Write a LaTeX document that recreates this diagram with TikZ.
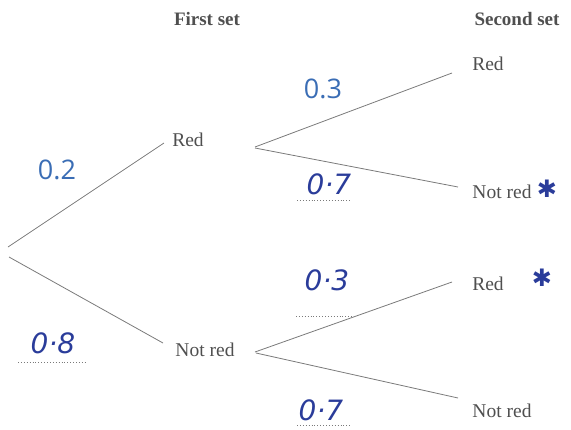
\documentclass[tikz,border=0pt]{standalone}
\usepackage{fontspec}
\setmainfont{Liberation Serif}
\newfontfamily\typedfont{Open Sans}
\newfontfamily\handfont{DejaVu Sans}
\newfontfamily\symfont{DejaVu Sans}
\definecolor{txtgray}{HTML}{4F4F4F}
\definecolor{linegray}{HTML}{7A7A7A}
\definecolor{typedblue}{HTML}{3A6DB5}
\definecolor{handblue}{HTML}{2A3C9A}
\tikzset{
  lbl/.style={text=txtgray, inner sep=0pt, font=\fontsize{19.5}{21}\selectfont},
  head/.style={text=txtgray, inner sep=0pt, font=\fontsize{19}{21}\selectfont\bfseries},
  branch/.style={draw=linegray, line width=0.8pt},
  typed/.style={text=typedblue, inner sep=0pt, font=\typedfont\fontsize{27}{29}\selectfont},
  hand/.style={text=handblue, inner sep=0pt, font=\handfont\itshape\fontsize{28}{30}\selectfont},
  blank/.style={draw=linegray, line width=0.9pt, dotted},
  starmark/.style={text=handblue, inner sep=0pt, font=\symfont\fontsize{24}{26}\selectfont}
}
\begin{document}
\begin{tikzpicture}[x=1pt,y=-1pt]
\useasboundingbox (0,0) rectangle (571,429);
% headings
\node[head] (h1) at (207,19) {First set};
\node[head] (h2) at (517,19) {Second set};
% tree labels
\node[lbl] (red1) at (188,140) {Red};
\node[lbl] (nr1) at (205,350) {Not red};
\node[lbl] (red2a) at (488,64) {Red};
\node[lbl] (nr2a) at (502,192) {Not red};
\node[lbl] (red2b) at (488,284) {Red};
\node[lbl] (nr2b) at (502,411) {Not red};
% connection points
\coordinate (rootA) at (8,247);
\coordinate (rootB) at (9,257);
\coordinate (red1in) at (164,143);
\coordinate (nr1in) at (163,343);
\coordinate (red1outA) at (255,147);
\coordinate (red1outB) at (255,148);
\coordinate (nr1outA) at (255,352);
\coordinate (nr1outB) at (256,353);
\coordinate (red2ain) at (452,73);
\coordinate (nr2ain) at (458,187);
\coordinate (red2bin) at (452,282);
\coordinate (nr2bin) at (458,398);
% branches
\draw[branch] (rootA) -- (red1in);
\draw[branch] (rootB) -- (nr1in);
\draw[branch] (red1outA) -- (red2ain);
\draw[branch] (red1outB) -- (nr2ain);
\draw[branch] (nr1outA) -- (red2bin);
\draw[branch] (nr1outB) -- (nr2bin);
% typed probabilities
\node[typed] (p02) at (57,170) {0.2};
\node[typed] (p03a) at (323,89) {0.3};
% handwritten probabilities with answer blanks
\node[hand] (p07a) at (329,184) {0·7};
\node[hand] (p03b) at (327,280) {0·3};
\node[hand] (p08) at (53,343) {0·8};
\node[hand] (p07b) at (321,410) {0·7};
\draw[blank] (297,200) -- (352,200);
\draw[blank] (296,316) -- (352,316);
\draw[blank] (18,362) -- (85,362);
\draw[blank] (297,425) -- (352,425);
% stars
\node[starmark] (s1) at (547,189) {✱};
\node[starmark] (s2) at (542,278) {✱};
\end{tikzpicture}
\end{document}
